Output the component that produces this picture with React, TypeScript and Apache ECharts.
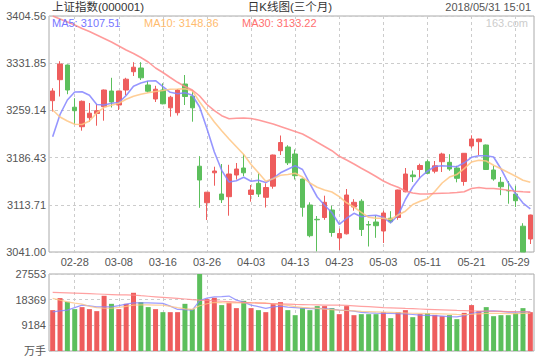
import React, { useEffect, useRef } from "react";
import * as echarts from "echarts";

const dates = [
  "02-23","02-26","02-27","02-28","03-01","03-02","03-05","03-06","03-07","03-08",
  "03-09","03-12","03-13","03-14","03-15","03-16","03-19","03-20","03-21","03-22",
  "03-23","03-26","03-27","03-28","03-29","03-30","04-02","04-03","04-04","04-09",
  "04-10","04-11","04-12","04-13","04-16","04-17","04-18","04-19","04-20","04-23",
  "04-24","04-25","04-26","04-27","05-02","05-03","05-04","05-07","05-08","05-09",
  "05-10","05-11","05-14","05-15","05-16","05-17","05-18","05-21","05-22","05-23",
  "05-24","05-25","05-28","05-29","05-30","05-31"
];

const opens = [
  3274.08,3306.43,3329.07,3264.06,3234.02,3247.89,3254.36,3264.83,3289.02,3267.45,
  3290.56,3318.75,3324.45,3298.26,3276.70,3290.56,3263.14,3255.59,3299.80,3281.01,
  3173.17,3116.94,3163.00,3130.35,3126.19,3159.62,3170.40,3129.58,3146.83,3125.26,
  3142.36,3197.05,3202.75,3191.97,3153.45,3113.40,3091.37,3094.14,3105.70,3062.56,
  3069.03,3110.32,3119.25,3083.36,3087.21,3073.35,3093.07,3094.14,3133.74,3159.62,
  3168.09,3180.10,3165.47,3180.10,3179.18,3170.40,3149.60,3204.29,3210.92,3205.83,
  3167.32,3148.37,3135.74,3130.35,3080.74,3061.02
];
const closes = [
  3289.02,3330.61,3290.56,3258.67,3273.15,3254.82,3258.67,3290.56,3272.07,3289.02,
  3307.20,3325.68,3309.36,3288.71,3291.79,3269.30,3279.47,3290.56,3280.55,3263.14,
  3151.91,3133.12,3165.78,3121.56,3161.16,3168.86,3163.00,3136.51,3130.35,3140.36,
  3190.43,3209.68,3178.41,3158.54,3109.86,3066.11,3090.60,3117.56,3071.04,3069.49,
  3128.81,3117.56,3075.66,3082.59,3081.51,3101.08,3087.67,3136.51,3161.16,3157.00,
  3174.25,3162.23,3173.79,3191.97,3168.86,3154.53,3193.04,3215.07,3215.07,3168.09,
  3153.45,3141.59,3135.27,3120.02,3041.00,3097.99
];
const lows = [
  3257.44,3280.55,3284.09,3238.18,3227.86,3241.57,3235.56,3243.27,3263.60,3259.75,
  3282.40,3312.13,3305.97,3286.71,3272.07,3268.53,3249.43,3251.28,3267.45,3241.73,
  3109.09,3090.29,3143.13,3116.48,3096.92,3152.68,3157.77,3118.48,3125.72,3109.55,
  3138.51,3190.43,3175.02,3152.68,3095.38,3063.65,3042.00,3090.60,3064.57,3044.08,
  3068.00,3104.62,3065.64,3049.47,3062.87,3054.86,3085.21,3090.60,3133.00,3148.83,
  3153.92,3161.16,3162.23,3164.24,3166.09,3148.37,3143.13,3200.75,3190.43,3167.32,
  3150.83,3128.50,3115.40,3110.32,3041.00,3053.32
];
const highs = [
  3293.33,3334.93,3329.84,3277.93,3274.39,3270.53,3268.69,3291.33,3309.36,3289.33,
  3309.36,3333.39,3333.39,3304.43,3297.03,3300.88,3281.63,3292.10,3313.67,3288.25,
  3188.58,3133.43,3172.40,3176.56,3175.33,3178.10,3191.97,3144.21,3162.23,3146.83,
  3191.00,3220.47,3205.52,3198.90,3154.00,3117.56,3096.45,3127.73,3112.32,3077.20,
  3138.05,3122.34,3122.34,3088.75,3097.22,3104.62,3103.85,3137.00,3170.40,3166.55,
  3177.02,3183.49,3181.18,3193.97,3191.66,3173.79,3193.50,3220.77,3215.50,3206.50,
  3173.79,3156.53,3150.37,3143.13,3085.36,3098.50
];

const ma5 = [
  3218.62,3252.82,3275.16,3287.48,3287.94,3282.40,3268.22,3267.45,3270.07,3271.30,
  3282.09,3296.41,3301.34,3304.43,3304.89,3295.95,3287.02,3284.86,3286.25,3282.40,
  3264.37,3230.94,3195.05,3166.86,3148.83,3150.83,3156.07,3150.06,3151.45,3148.06,
  3154.53,3163.00,3168.55,3173.79,3168.09,3146.21,3125.72,3112.94,3101.38,3083.67,
  3093.00,3100.61,3095.38,3096.92,3097.53,3094.45,3085.98,3097.53,3121.87,3141.13,
  3155.76,3165.47,3172.71,3173.79,3173.17,3172.40,3178.41,3186.88,3189.19,3189.19,
  3187.35,3169.32,3147.60,3130.81,3116.48,3107.51
];
const ma10 = [
  3259.75,3248.97,3242.80,3237.72,3237.41,3242.80,3255.13,3263.91,3266.99,3270.07,
  3276.39,3281.01,3284.09,3286.25,3288.25,3289.79,3291.79,3292.10,3292.56,3289.48,
  3272.07,3256.67,3241.26,3227.71,3215.07,3203.21,3191.20,3175.79,3163.00,3150.06,
  3153.92,3159.15,3160.39,3162.23,3156.53,3147.29,3140.67,3136.51,3133.43,3126.19,
  3116.79,3110.32,3102.15,3094.45,3093.07,3093.07,3091.06,3097.99,3103.85,3114.17,
  3119.25,3123.11,3134.20,3147.29,3156.53,3160.39,3169.32,3179.64,3182.26,3181.18,
  3174.56,3169.32,3163.47,3157.77,3151.45,3148.36
];
const ma30 = [
  3404.50,3399.94,3395.32,3390.70,3385.30,3380.68,3375.29,3369.90,3364.51,3358.34,
  3352.18,3346.79,3340.63,3333.70,3324.45,3317.52,3309.82,3302.42,3295.95,3290.56,
  3281.32,3268.22,3258.67,3250.97,3246.35,3246.96,3247.43,3246.66,3244.34,3241.26,
  3238.18,3234.33,3230.48,3226.63,3222.78,3216.62,3209.99,3203.52,3197.05,3188.42,
  3182.72,3176.56,3169.94,3163.77,3157.30,3150.37,3144.98,3140.67,3134.97,3131.89,
  3130.35,3130.35,3131.12,3131.58,3131.89,3132.66,3133.89,3138.82,3140.36,3138.82,
  3138.82,3137.59,3136.05,3134.66,3133.73,3133.22
];

const volumes = [
  14620,18930,17600,14980,15700,14980,14260,19760,16880,14980,
  16880,20830,17490,15700,14980,13900,13900,13900,16880,14980,
  27553,18570,19040,16420,17240,15340,17960,15340,14620,13900,
  16770,17490,14620,12820,15340,14620,16060,16060,15340,13180,
  16060,12820,13180,13180,13180,13900,11750,13900,14620,12100,
  13180,13540,12930,12460,12820,11390,13650,16420,14260,15700,
  12460,12820,12820,13540,15340,13900
];
const volMa5 = [
  14010,14330,14620,15520,16420,16130,15800,15800,15800,16240,
  16770,17240,17240,17240,17130,17030,16060,14870,14800,14620,
  18030,18930,19400,19470,19650,18210,17490,16420,15880,15230,
  15800,16060,15700,15520,15340,15160,15230,15160,14980,14620,
  14510,14260,13830,13650,13540,13470,13430,13360,13250,13070,
  12820,12750,12640,12460,12280,12210,12640,13430,13900,14260,
  14370,14190,13900,13900,14010,14010
];
const volMa10 = [
  18820,18200,17600,17100,16770,16000,15500,15300,15300,15600,
  16000,16420,16500,16500,16450,16420,16000,15500,15100,14900,
  16200,16900,17400,17300,17240,17200,17250,17300,17250,17240,
  16900,16600,16300,15900,15600,15400,15230,15000,14800,14600,
  14500,14350,14200,14100,14000,13900,13800,13700,13600,13500,
  13450,13400,13350,13300,13200,13100,13050,13150,13300,13430,
  13500,13450,13400,13400,13430,13430
];
const volMa30 = [
  20980,20900,20800,20700,20600,20500,20400,20300,20200,20100,
  20050,20010,19800,19600,19400,19200,19000,18800,18600,18400,
  18210,18100,17950,17800,17650,17500,17400,17250,17150,17030,
  16950,16850,16750,16650,16600,16550,16500,16450,16430,16420,
  16300,16150,16000,15850,15700,15550,15450,15350,15230,15130,
  15030,14930,14830,14730,14630,14530,14450,14370,14320,14270,
  14220,14170,14120,14070,14040,14010
];

const priceMin = 3041.0;
const priceMax = 3404.564;
const priceTicks = ["3041.00", "3113.71", "3186.43", "3259.14", "3331.85", "3404.56"];
const volMax = 27553;
const volTicks = ["万手", "9184", "18369", "27553"];

const titleLeft = "上证指数(000001)";
const titleMid = "日K线图(三个月)";
const titleRight = "2018/05/31 15:01";
const watermark = "163.com";

const UP = "#ee5d5d";
const DOWN = "#5cbf5c";
const C5 = "#8484ff";
const C10 = "#ffc684";
const C30 = "#ff8a8a";
const FONT = '"Liberation Sans", Arial, "Noto Sans CJK SC", sans-serif';

const labelInterval = (i: number) => i % 6 === 3;

export default function App() {
  const ref = useRef<HTMLDivElement>(null);
  useEffect(() => {
    document.body.style.margin = "0";
    if (!ref.current) return;
    const chart = echarts.init(ref.current, undefined, { renderer: "svg" });
    const ohlc = opens.map((o, i) => [o, closes[i], lows[i], highs[i]]);
    const volData = volumes.map((v, i) => ({
      value: v,
      itemStyle: { color: closes[i] >= opens[i] ? UP : DOWN },
    }));
    const last = (a: number[]) => a[a.length - 1].toFixed(2);
    const splitStyle = { color: "#cccccc", type: [3, 3] as any, width: 1 };
    const lineSeries = (name: string, data: number[], color: string, xi: number, w: number, op: number) => ({
      name,
      type: "line",
      data,
      xAxisIndex: xi,
      yAxisIndex: xi,
      symbol: "none",
      silent: true,
      lineStyle: { color, width: w, opacity: op },
      z: 3,
    });
    const textEl = (text: string, x: number, y: number, fill: string, size: number, align = "left") => ({
      type: "text",
      x,
      y,
      silent: true,
      style: { text, fill, font: `${size}px ${FONT}`, align, verticalAlign: "middle" },
      z: 10,
    });
    chart.setOption({
      animation: false,
      backgroundColor: "#ffffff",
      textStyle: { fontFamily: FONT },
      grid: [
        { left: 49, top: 16, width: 485, height: 236, show: true, borderColor: "#aaaaaa", borderWidth: 1, backgroundColor: "transparent" },
        { left: 49, top: 274, width: 485, height: 77, show: true, borderColor: "#aaaaaa", borderWidth: 1, backgroundColor: "transparent" },
      ],
      xAxis: [
        {
          type: "category", gridIndex: 0, data: dates, boundaryGap: true,
          axisLine: { show: false }, axisTick: { show: false },
          axisLabel: { interval: labelInterval, color: "#555", fontSize: 11, margin: 4, fontFamily: FONT },
          splitLine: { show: true, interval: labelInterval, alignWithLabel: true, lineStyle: splitStyle },
        },
        {
          type: "category", gridIndex: 1, data: dates, boundaryGap: true,
          axisLine: { show: false }, axisTick: { show: false },
          axisLabel: { show: false },
          splitLine: { show: true, interval: labelInterval, alignWithLabel: true, lineStyle: splitStyle },
        },
      ],
      yAxis: [
        {
          type: "value", gridIndex: 0, min: priceMin, max: priceMax, interval: (priceMax - priceMin) / 5,
          axisLine: { show: false }, axisTick: { show: false },
          axisLabel: { color: "#555", fontSize: 11, margin: 3, fontFamily: FONT, formatter: (_v: number, i: number) => priceTicks[i] ?? "" },
          splitLine: { show: true, lineStyle: splitStyle },
        },
        {
          type: "value", gridIndex: 1, min: 0, max: volMax, interval: volMax / 3,
          axisLine: { show: false }, axisTick: { show: false },
          axisLabel: { color: "#555", fontSize: 11, margin: 3, fontFamily: FONT, formatter: (_v: number, i: number) => volTicks[i] ?? "" },
          splitLine: { show: true, lineStyle: splitStyle },
        },
      ],
      series: [
        {
          name: "K",
          type: "candlestick",
          data: ohlc,
          xAxisIndex: 0,
          yAxisIndex: 0,
          barWidth: 5,
          silent: true,
          itemStyle: { color: UP, color0: DOWN, borderColor: UP, borderColor0: DOWN, borderWidth: 1 },
          z: 2,
        },
        lineSeries("MA5", ma5, C5, 0, 1.6, 0.85),
        lineSeries("MA10", ma10, C10, 0, 1.6, 0.85),
        lineSeries("MA30", ma30, C30, 0, 1.6, 0.85),
        {
          name: "VOL",
          type: "bar",
          data: volData,
          xAxisIndex: 1,
          yAxisIndex: 1,
          barWidth: 5,
          silent: true,
          z: 2,
        },
        lineSeries("VMA5", volMa5, C5, 1, 1.2, 0.8),
        lineSeries("VMA10", volMa10, C10, 1, 1.2, 0.8),
        lineSeries("VMA30", volMa30, C30, 1, 1.2, 0.8),
      ],
      graphic: [
        textEl(titleLeft, 52, 7, "#333", 11.5),
        textEl(titleMid, 290, 7, "#333", 11.5, "center"),
        textEl(titleRight, 531, 7, "#555", 11, "right"),
        textEl(`MA5: ${last(ma5)}`, 52, 23, "#7676ff", 11),
        textEl(`MA10: ${last(ma10)}`, 144, 23, "#ffbb6e", 11),
        textEl(`MA30: ${last(ma30)}`, 242, 23, "#ff7070", 11),
        textEl(watermark, 528, 23, "#cccccc", 11, "right"),
      ],
    });
    return () => chart.dispose();
  }, []);
  return <div ref={ref} style={{ position: "fixed", left: 0, top: 0, width: 540, height: 360 }} />;
}
